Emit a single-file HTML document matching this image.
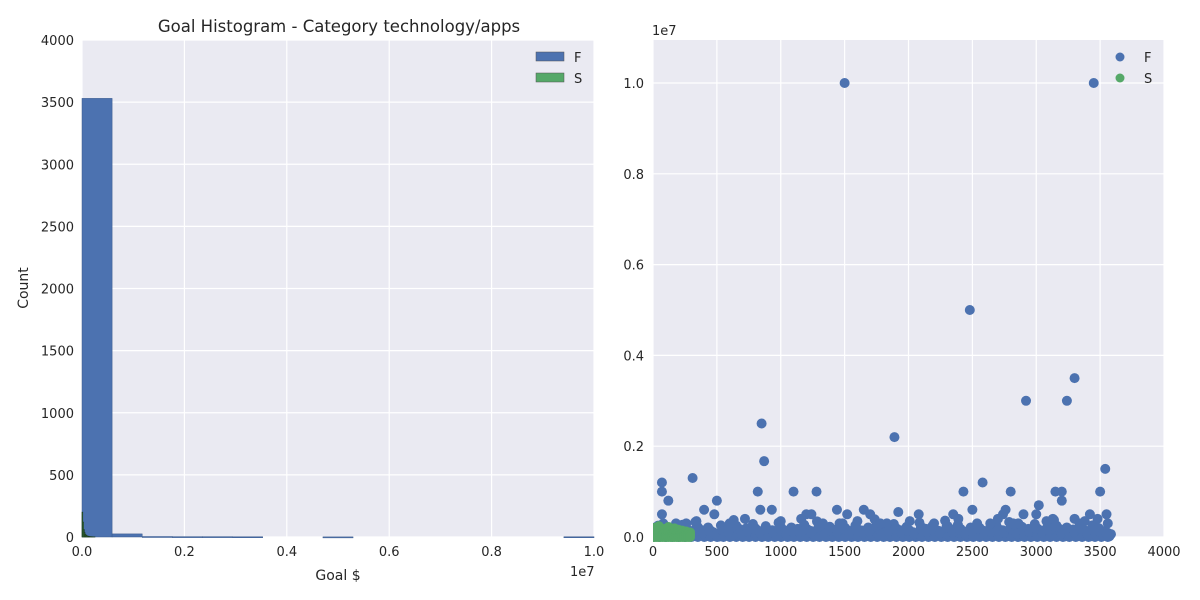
<!DOCTYPE html>
<html><head><meta charset="utf-8"><style>
body{margin:0;background:#fff}
svg{display:block;font-family:"DejaVu Sans","Liberation Sans",sans-serif}
</style></head><body>
<svg id="c" width="1200" height="600" xmlns="http://www.w3.org/2000/svg"></svg>
<script>
// Histogram data
const histBinEdgesF = [0,0.588e6,1.176e6,1.765e6,2.353e6,2.941e6,3.529e6,4.118e6,4.706e6,5.294e6,5.882e6,6.471e6,7.059e6,7.647e6,8.235e6,8.824e6,9.412e6,1.0e7];
const histCountsF = [3530,25,4,3,3,2,0,0,1,0,0,0,0,0,0,0,2];
const histBinEdgesS = [0,15e3,30e3,45e3,60e3,75e3,90e3,105e3,120e3,135e3,150e3,165e3,180e3,195e3,210e3,225e3,240e3,255e3];
const histCountsS = [200,120,60,35,20,15,10,8,5,4,3,3,2,2,1,1,1];
const histYTicks = [0,500,1000,1500,2000,2500,3000,3500,4000];
const histXTicks = [0,0.2,0.4,0.6,0.8,1.0];
// Scatter data
const scatterOutX = [70,70,70,120,310,500,850,870,820,1500,1100,1280,1890,2480,2430,2580,2800,2920,3240,3300,3450,3540,3500,3150,3200,3020,3200,400,480,930,1650,1440,2350,2500,2760,3420,3550,2900,2080,1920,1700,1200,1240,840,2740,3000,3130,40,180,260,340,600,720,1000,1160,1330,1460,1600,1780,2010,2200,2390,2640,2700,2860,3080,3300,3380,3480,1520,1830,2820,3560];
const scatterOutY = [0.5e6,1.2e6,1.0e6,0.8e6,1.3e6,0.8e6,2.5e6,1.67e6,1.0e6,1.0e7,1.0e6,1.0e6,2.2e6,5.0e6,1.0e6,1.2e6,1.0e6,3.0e6,3.0e6,3.5e6,1.0e7,1.5e6,1.0e6,1.0e6,1.0e6,0.7e6,0.8e6,0.6e6,0.5e6,0.6e6,0.6e6,0.6e6,0.5e6,0.6e6,0.6e6,0.5e6,0.5e6,0.5e6,0.5e6,0.55e6,0.5e6,0.5e6,0.5e6,0.6e6,0.5e6,0.5e6,0.4e6,0.25e6,0.3e6,0.3e6,0.35e6,0.3e6,0.4e6,0.35e6,0.4e6,0.3e6,0.3e6,0.35e6,0.3e6,0.35e6,0.3e6,0.4e6,0.3e6,0.4e6,0.3e6,0.35e6,0.4e6,0.35e6,0.4e6,0.5e6,0.3e6,0.3e6,0.3e6];
const scatterBandF = [150e3,80e3,200e3,120e3,60e3,180e3,100e3,220e3,90e3,140e3,50e3,170e3,110e3,250e3,70e3,130e3,190e3,85e3,160e3,100e3,210e3,60e3,140e3,120e3,180e3,90e3,230e3,75e3,150e3,110e3,200e3,65e3,170e3,95e3,140e3,260e3,80e3,130e3,190e3,100e3,150e3,70e3,210e3,120e3,160e3,90e3,240e3,110e3,180e3,60e3,140e3,200e3,85e3,130e3,170e3,100e3,220e3,75e3,150e3,120e3,190e3,95e3,160e3,250e3,80e3,140e3,110e3,200e3,70e3,170e3,130e3,90e3];
const scatterBandS = [120e3,200e3,80e3,240e3,150e3,60e3,180e3,100e3,220e3,130e3,70e3,190e3,110e3,160e3,90e3,140e3,60e3,120e3,80e3,100e3];
const scatterXTicks = [0,500,1000,1500,2000,2500,3000,3500,4000];
const scatterYTicks = [0,0.2,0.4,0.6,0.8,1.0];

const svg = document.getElementById('c');
const NS = 'http://www.w3.org/2000/svg';
function mk(tag, attrs, parent){const e=document.createElementNS(NS,tag);for(const k in attrs)e.setAttribute(k,attrs[k]);(parent||svg).appendChild(e);return e;}
function txt(s, attrs){const e=mk('text',Object.assign({fill:'#262626','font-size':13},attrs));e.textContent=s;return e;}
const BLUE='#4c72b0', GREEN='#55a868';

// ---- Left histogram ----
const L={x0:82,x1:594,y0:537,y1:40};
const hx=v=>L.x0+(v/1e7)*(L.x1-L.x0);
const hy=v=>L.y0-(v/4000)*(L.y0-L.y1);
let bg=mk('rect',{x:L.x0,y:L.y1,width:L.x1-L.x0,height:L.y0-L.y1,fill:'#eaeaf2'});


histXTicks.forEach(t=>{const l=mk('line',{x1:hx(t*1e7),x2:hx(t*1e7),y1:L.y1,y2:L.y0,stroke:'#fff','stroke-width':1.2});


const tl=txt(t.toFixed(1),{x:hx(t*1e7),y:556,'text-anchor':'middle'});

});
histYTicks.forEach(t=>{const l=mk('line',{x1:L.x0,x2:L.x1,y1:hy(t),y2:hy(t),stroke:'#fff','stroke-width':1.2});


const tl=txt(String(t),{x:74,y:hy(t)+5,'text-anchor':'end'});

});
histCountsF.forEach((c,i)=>{if(!c)return;const x=hx(histBinEdgesF[i]),w=hx(histBinEdgesF[i+1])-x;
const r=mk('rect',{x:x,y:hy(c),width:w,height:Math.max(hy(0)-hy(c),1),fill:BLUE,stroke:'#3a5a8c','stroke-width':0.5});

});
histCountsS.forEach((c,i)=>{const x=hx(histBinEdgesS[i]),w=hx(histBinEdgesS[i+1])-x;
const r=mk('rect',{x:x,y:hy(c),width:w,height:hy(0)-hy(c),fill:GREEN,stroke:'#1a3a1a','stroke-width':0.6});

});
[['F',BLUE,57],['S',GREEN,78]].forEach(([n,c,y])=>{const r=mk('rect',{x:536,y:y-5,width:28,height:9,fill:c,stroke:'#555','stroke-width':0.5});


const t=txt(n,{x:574,y:y+5});

});
let t1=txt('Goal Histogram - Category technology/apps',{x:339,y:32,'text-anchor':'middle','font-size':16.5});


let t2=txt('Goal $',{x:338,y:580,'text-anchor':'middle','font-size':14});


let t3=txt('Count',{x:28,y:288,'text-anchor':'middle','font-size':14,transform:'rotate(-90 28 288)'});


let t4=txt('1e7',{x:570,y:576});



// ---- Right scatter ----
const R={x0:653,x1:1164,y0:537,y1:40};
const sx=v=>R.x0+(v/4000)*(R.x1-R.x0);
const sy=v=>R.y0-(v/1e7)*454;
bg=mk('rect',{x:R.x0,y:R.y1,width:R.x1-R.x0,height:R.y0-R.y1,fill:'#eaeaf2'});


scatterXTicks.forEach(t=>{const l=mk('line',{x1:sx(t),x2:sx(t),y1:R.y1,y2:R.y0,stroke:'#fff','stroke-width':1.2});


const tl=txt(String(t),{x:sx(t),y:556,'text-anchor':'middle'});

});
scatterYTicks.forEach(t=>{const l=mk('line',{x1:R.x0,x2:R.x1,y1:sy(t*1e7),y2:sy(t*1e7),stroke:'#fff','stroke-width':1.2});


const tl=txt(t.toFixed(1),{x:644,y:sy(t*1e7)+5,'text-anchor':'end'});

});
const clip=mk('clipPath',{id:'sc'});mk('rect',{x:R.x0,y:R.y1,width:R.x1-R.x0,height:R.y0-R.y1+6},clip);
const g=mk('g',{'clip-path':'url(#sc)'});


scatterBandF.forEach((v,i)=>{const x=i*3560/(scatterBandF.length-1);
[[0,v],[0,v*0.4],[0,0],[25,v*0.7],[-20,v*1.5],[12,v*0.15],[-10,v*0.9]].forEach(([dx,vv])=>{const c=mk('circle',{cx:sx(x+dx),cy:sy(vv),r:5,fill:BLUE},g);

});});
scatterOutX.forEach((x,i)=>{const c=mk('circle',{cx:sx(x),cy:sy(scatterOutY[i]),r:5,fill:BLUE},g);

});
scatterBandS.forEach((v,i)=>{const x=i*290/(scatterBandS.length-1);
[v,v*0.5,0].forEach(vv=>{const c=mk('circle',{cx:sx(x),cy:sy(vv),r:5,fill:GREEN},g);

});});
[['F',BLUE,57],['S',GREEN,78]].forEach(([n,c,y])=>{const m=mk('circle',{cx:1120,cy:y,r:4.5,fill:c});


const t=txt(n,{x:1144,y:y+5});

});
let t5=txt('1e7',{x:652,y:35});


</script>
</body></html>
